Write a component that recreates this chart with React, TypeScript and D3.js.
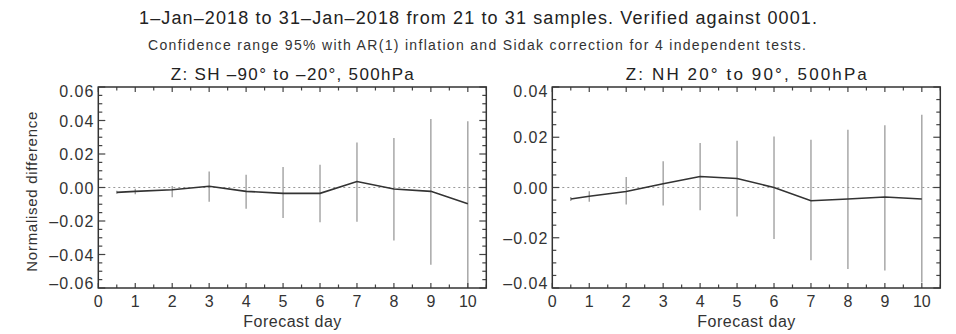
import React, { useEffect, useRef } from 'react';
import * as d3 from 'd3';

// forecast days (first point is the half day)
const days = [0.5, 1, 2, 3, 4, 5, 6, 7, 8, 9, 10];

// SH panel
const shMean = [-0.0029, -0.0023, -0.0013, 0.0007, -0.0023, -0.0035, -0.0035, 0.0036, -0.0009, -0.0023, -0.0097];
const shLow = [-0.0038, -0.004, -0.0058, -0.0085, -0.0127, -0.0182, -0.0208, -0.0204, -0.0316, -0.0461, -0.065];
const shHigh = [-0.002, -0.0008, 0.0009, 0.0096, 0.0076, 0.0122, 0.0136, 0.0269, 0.0295, 0.0409, 0.0395];

// NH panel
const nhMean = [-0.0046, -0.0035, -0.0016, 0.0015, 0.0044, 0.0036, 0.0, -0.0053, -0.0046, -0.0038, -0.0046];
const nhLow = [-0.0054, -0.0057, -0.0068, -0.0072, -0.0091, -0.0115, -0.0205, -0.029, -0.0324, -0.033, -0.0378];
const nhHigh = [-0.0038, -0.0015, 0.0042, 0.0104, 0.0177, 0.0186, 0.0203, 0.019, 0.023, 0.0248, 0.029];

const xTicks = [0, 1, 2, 3, 4, 5, 6, 7, 8, 9, 10];
const shYTicks = [-0.06, -0.04, -0.02, 0, 0.02, 0.04, 0.06];
const nhYTicks = [-0.04, -0.02, 0, 0.02, 0.04];

const title = '1\u2013Jan\u20132018 to 31\u2013Jan\u20132018 from 21 to 31 samples. Verified against 0001.';
const subtitle = 'Confidence range 95% with AR(1) inflation and Sidak correction for 4 independent tests.';

const panels = [
    { id: 'sh', title: 'Z: SH \u201390\u00b0 to \u201320\u00b0, 500hPa', titleLen: 243, mean: shMean, low: shLow, high: shHigh, yDomain: [-0.06, 0.06], yTicks: shYTicks, left: 98.3, yLabel: true },
    { id: 'nh', title: 'Z: NH 20\u00b0 to 90\u00b0, 500hPa', titleLen: 241, mean: nhMean, low: nhLow, high: nhHigh, yDomain: [-0.04, 0.04], yTicks: nhYTicks, left: 552.3, yLabel: false },
];

const fmt = (v: number) => (v < 0 ? '\u2013' : '') + Math.abs(v).toFixed(2);

function App() {
    const svgRef = useRef<SVGSVGElement>(null);

    useEffect(() => {
        const W = 956, H = 334;
        const svg = d3.select(svgRef.current).attr('width', W).attr('height', H);
        svg.selectAll('*').remove();
        const font = '"Liberation Sans", Arial, sans-serif';

        svg.append('text').attr('x', 478).attr('y', 24).attr('text-anchor', 'middle')
            .attr('textLength', 678).attr('lengthAdjust', 'spacing')
            .style('font', `18px ${font}`).attr('fill', '#222').text(title);
        svg.append('text').attr('x', 477).attr('y', 50).attr('text-anchor', 'middle')
            .attr('textLength', 658).attr('lengthAdjust', 'spacing')
            .style('font', `14px ${font}`).attr('fill', '#333').text(subtitle);

        const plotW = 388, top = 87, bottom = 288;

        panels.forEach(p => {
            const x = d3.scaleLinear().domain([0, 10.5]).range([p.left, p.left + plotW]);
            const y = d3.scaleLinear().domain(p.yDomain).range([bottom, top]);
            const g = svg.append('g');

            g.append('defs').append('clipPath').attr('id', 'clip-' + p.id)
                .append('rect').attr('x', p.left).attr('y', top).attr('width', plotW).attr('height', bottom - top);

            // panel title
            g.append('text').attr('x', p.left + plotW / 2).attr('y', 80).attr('text-anchor', 'middle')
                .attr('textLength', p.titleLen).attr('lengthAdjust', 'spacing')
                .style('font', `17px ${font}`).attr('fill', '#222').text(p.title);

            // zero line
            g.append('line').attr('x1', x(0)).attr('x2', x(10.5)).attr('y1', y(0)).attr('y2', y(0))
                .attr('stroke', '#999').attr('stroke-width', 1).attr('stroke-dasharray', '2,3');

            const plot = g.append('g').attr('clip-path', `url(#clip-${p.id})`);

            // error bars
            plot.selectAll('line.err').data(days).enter().append('line')
                .attr('x1', d => x(d)).attr('x2', d => x(d))
                .attr('y1', (d, i) => y(p.low[i])).attr('y2', (d, i) => y(p.high[i]))
                .attr('stroke', '#9a9a9a').attr('stroke-width', 1.3);

            // mean line
            const line = d3.line<number>().x(d => x(d)).y((d, i) => y(p.mean[i]));
            plot.append('path').datum(days).attr('d', line)
                .attr('fill', 'none').attr('stroke', '#333').attr('stroke-width', 1.6);

            // ticks, inward on all four sides
            const frame = g.append('g').attr('stroke', '#444').attr('stroke-width', 1.2);
            const xMinor = d3.range(0, 10.51, 0.5);
            xMinor.forEach(v => {
                const len = Number.isInteger(v) ? 5 : 3.5;
                frame.append('line').attr('x1', x(v)).attr('x2', x(v)).attr('y1', bottom).attr('y2', bottom - len);
                frame.append('line').attr('x1', x(v)).attr('x2', x(v)).attr('y1', top).attr('y2', top + len);
            });
            const [y0, y1] = p.yDomain;
            const yMinor = d3.range(Math.round(y0 / 0.005), Math.round(y1 / 0.005) + 1).map(k => k * 0.005);
            yMinor.forEach((v, k) => {
                const len = k % 4 === 0 ? 7 : 4;
                frame.append('line').attr('x1', x(0)).attr('x2', x(0) + len).attr('y1', y(v)).attr('y2', y(v));
                frame.append('line').attr('x1', x(10.5)).attr('x2', x(10.5) - len).attr('y1', y(v)).attr('y2', y(v));
            });

            // frame
            g.append('rect').attr('x', p.left).attr('y', top).attr('width', plotW).attr('height', bottom - top)
                .attr('fill', 'none').attr('stroke', '#333').attr('stroke-width', 1.5);

            // tick labels
            g.selectAll('text.xt').data(xTicks).enter().append('text')
                .attr('x', d => x(d)).attr('y', 307).attr('text-anchor', 'middle')
                .style('font', `16px ${font}`).attr('fill', '#333').text(d => String(d));
            g.selectAll('text.yt').data(p.yTicks).enter().append('text')
                .attr('x', p.left - 4).attr('y', d => Math.min(bottom - 5, Math.max(top + 4, y(d))) + 6)
                .attr('text-anchor', 'end').style('letter-spacing', '1px')
                .style('font', `16px ${font}`).attr('fill', '#333').text(d => fmt(d));

            g.append('text').attr('x', p.left + plotW / 2).attr('y', 327).attr('text-anchor', 'middle')
                .attr('textLength', 98).attr('lengthAdjust', 'spacing')
                .style('font', `16px ${font}`).attr('fill', '#333').text('Forecast day');

            if (p.yLabel) {
                g.append('text').attr('transform', `translate(37,191.7) rotate(-90)`)
                    .attr('text-anchor', 'middle').attr('textLength', 160).attr('lengthAdjust', 'spacing')
                    .style('font', `15px ${font}`).attr('fill', '#333')
                    .text('Normalised difference');
            }
        });
    }, []);

    return (
        <div style={{ position: 'absolute', left: 0, top: 0, background: '#fff' }}>
            <svg ref={svgRef} style={{ display: 'block' }}></svg>
        </div>
    );
}

export default App;
